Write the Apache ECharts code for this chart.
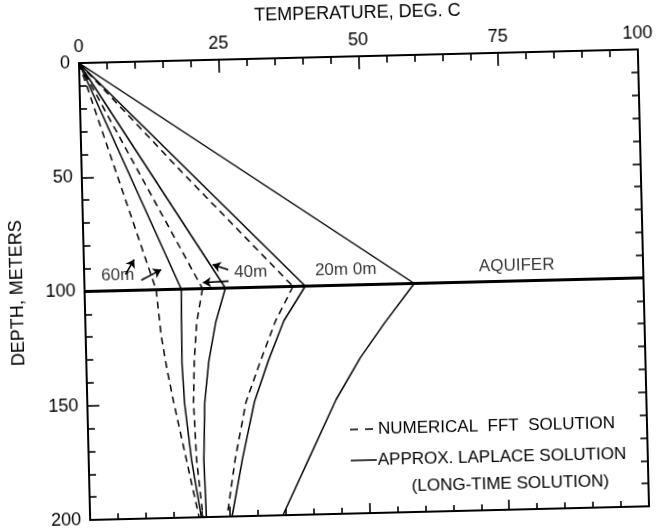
<!DOCTYPE html>
<html>
<head>
<meta charset="utf-8">
<script src="https://cdn.jsdelivr.net/npm/echarts@6/dist/echarts.min.js"></script>
<style>
html,body{margin:0;padding:0;background:#fff;}
#c{width:661px;height:529px;transform:rotate(-1.4deg);transform-origin:50% 50%;}
</style>
</head>
<body>
<div id="c"></div>
<script>
// ---- data: [temperature degC, depth m] ----
const xTicks = [0, 25, 50, 75, 100];
const yTicks = [0, 50, 100, 150, 200];

const laplace0Upper = [[0,0],[59,100]];
const laplace0Lower = [[59,100],[53.5,117],[49,132],[44.5,150],[39.5,175],[34.5,200]];

const laplace20Upper = [[0,0],[39.5,100]];
const laplace20Lower = [[39.5,100],[35.5,115],[32.6,132],[29.9,150],[27.5,175],[25.4,200]];
const fft20Upper = [[0,0],[18,49],[37.3,100]];
const fft20Lower = [[37.3,100],[34.0,115],[31.2,132],[28.4,150],[26.2,175],[24.5,200]];

const laplace40Upper = [[0,0],[25.2,100]];
const laplace40Lower = [[25.2,100],[23.3,115],[21.9,132],[21.0,150],[20.6,175],[20.8,200]];
const fft40Upper = [[0,0],[21.1,100]];
const fft40Lower = [[21.1,100],[19.9,115],[19.3,132],[19.0,150],[19.3,175],[20.2,200]];

const laplace60Upper = [[0,0],[17.3,100]];
const laplace60Lower = [[17.3,100],[17.1,132],[17.4,150],[18.4,175],[19.9,200]];
const fft60Upper = [[0,0],[12.8,100]];
const fft60Lower = [[12.8,100],[13.5,120],[14.4,135],[15.5,150],[17.5,175],[19.5,200]];

const aquifer = [[0,100],[100,100]];

const curveLabels = [[6.0,93.5,'60m'],[29.8,93.5,'40m'],[46.8,93.5,'20m 0m'],[77.4,93.5,'AQUIFER']];
const arrows = [
  [[7.4,93],[9.0,86.5]],
  [[10.2,95.6],[13.8,91.3]],
  [[25.8,92],[23.0,89.6]],
  [[25.8,97],[21.2,97.4]]
];

const legendTexts = ['NUMERICAL  FFT  SOLUTION', 'APPROX. LAPLACE SOLUTION', '(LONG-TIME SOLUTION)'];

// ---- chart ----
const FONT = 'Liberation Sans';
const chart = echarts.init(document.getElementById('c'));

function curve(data, dashed){
  return {
    type:'line', data:data, xAxisIndex:0, yAxisIndex:0,
    symbol:'none', showSymbol:false, smooth:false, silent:true,
    lineStyle:{color:'#000', width:1.5, type: dashed ? [7,5] : 'solid'}
  };
}

const series = [
  curve(laplace0Upper,false), curve(laplace0Lower,false),
  curve(laplace20Upper,false), curve(laplace20Lower,false),
  curve(fft20Upper,true), curve(fft20Lower,true),
  curve(laplace40Upper,false), curve(laplace40Lower,false),
  curve(fft40Upper,true), curve(fft40Lower,true),
  curve(laplace60Upper,false), curve(laplace60Lower,false),
  curve(fft60Upper,true), curve(fft60Lower,true),
  {type:'line', data:aquifer, symbol:'none', silent:true, lineStyle:{color:'#000', width:3.2}},
  {type:'scatter', data:curveLabels, symbolSize:0, silent:true,
   label:{show:true, position:'inside', formatter:p=>p.data[2], color:'#000', fontSize:17, fontFamily:FONT}},
  {type:'lines', coordinateSystem:'cartesian2d', silent:true,
   symbol:['none','arrow'], symbolSize:8,
   lineStyle:{color:'#000', width:1.6, opacity:1},
   data: arrows.map(a=>({coords:a}))}
];

const tickLabel = {color:'#000', fontSize:18, fontFamily:FONT};
const axLine = {show:true, onZero:false, lineStyle:{color:'#000', width:2}};
chart.setOption({
  animation:false,
  backgroundColor:'#fff',
  grid:{left:81, right:14, top:54, bottom:15},
  xAxis:[
    {type:'value', position:'top', min:0, max:100, interval:25,
     name:'TEMPERATURE, DEG. C', nameLocation:'middle', nameGap:34,
     nameTextStyle:{color:'#000', fontSize:18, fontFamily:FONT},
     axisLine:axLine,
     axisTick:{show:true, inside:true, length:13, lineStyle:{color:'#000', width:1.6}},
     minorTick:{show:true, splitNumber:5, length:7, lineStyle:{color:'#000', width:1.6}},
     axisLabel:Object.assign({margin:7, formatter:v=>String(v)}, tickLabel),
     splitLine:{show:false}},
    {type:'value', position:'bottom', min:0, max:100, interval:25,
     axisLine:axLine,
     axisTick:{show:true, inside:true, length:10, lineStyle:{color:'#000', width:1.6}},
     minorTick:{show:true, splitNumber:5, length:6, lineStyle:{color:'#000', width:1.6}},
     axisLabel:{show:false}, splitLine:{show:false}}
  ],
  yAxis:[
    {type:'value', inverse:true, min:0, max:200, interval:50,
     name:'DEPTH, METERS', nameLocation:'middle', nameGap:58,
     nameTextStyle:{color:'#000', fontSize:18, fontFamily:FONT},
     axisLine:axLine,
     axisTick:{show:true, inside:true, length:12, lineStyle:{color:'#000', width:1.6}},
     minorTick:{show:true, splitNumber:5, length:7, lineStyle:{color:'#000', width:1.6}},
     axisLabel:Object.assign({margin:9}, tickLabel),
     splitLine:{show:false}},
    {type:'value', position:'right', inverse:true, min:0, max:200, interval:50,
     axisLine:axLine,
     axisTick:{show:true, inside:true, length:8, lineStyle:{color:'#000', width:1.6}},
     minorTick:{show:true, splitNumber:5, length:7, lineStyle:{color:'#000', width:1.6}},
     axisLabel:{show:false}, splitLine:{show:false}}
  ],
  graphic:[
    {type:'line', shape:{x1:346,y1:430,x2:371,y2:430}, style:{stroke:'#000', lineWidth:1.5, lineDash:[8,7]}},
    {type:'text', x:374, y:430, style:{text:legendTexts[0], fill:'#000', fontSize:17, fontFamily:FONT, verticalAlign:'middle'}},
    {type:'line', shape:{x1:346,y1:461,x2:372,y2:461}, style:{stroke:'#000', lineWidth:1.5}},
    {type:'text', x:373, y:461, style:{text:legendTexts[1], fill:'#000', fontSize:17, fontFamily:FONT, verticalAlign:'middle'}},
    {type:'text', x:505, y:488, style:{text:legendTexts[2], fill:'#000', fontSize:17, fontFamily:FONT, verticalAlign:'middle', align:'center'}}
  ],
  series:series
});
</script>
</body>
</html>
